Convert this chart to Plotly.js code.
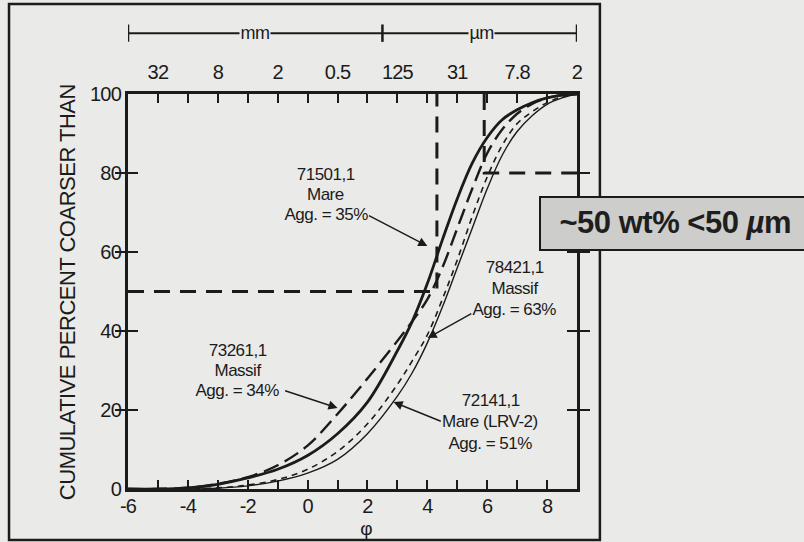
<!DOCTYPE html>
<html><head><meta charset="utf-8">
<script src="https://cdn.plot.ly/plotly-3.0.1.min.js"></script>
<style>html,body{margin:0;padding:0;background:#eaeae8;}#c{width:804px;height:542px;}
#c .xtick text,#c .ytick text,#c .x2tick text{letter-spacing:-0.8px;}
#c .annotation-text{letter-spacing:-0.5px;}
</style>
</head><body><div id="c"></div>
<script>
// ---- data ----
const phi = [-6,-5,-4,-3,-2,-1,0,1,2,3,3.5,4,4.5,5,5.5,6,6.5,7,7.5,8,8.5,9];
const s71501 = [0,0,0.3,1.2,2.8,5,8.5,14,22,35,42.5,52,63,73.5,82.5,89,93.5,96,97.8,99,99.7,100];   // Mare, thick solid
const s73261 = [0,0,0.3,1.3,3,6,11,19,28,37.5,42.5,48,56,66,76,85,91,95,97.5,99,99.7,100];       // Massif, long dash
const s78421 = [0,0,0,0.3,1,2.4,5,9.5,16.5,26.5,32.5,39,48,58,69,79,87,92.5,95.5,97.8,99.3,100];  // Massif, short dash
const s72141 = [0,0,0,0.2,0.8,2,4,7.5,14,23.5,29.5,37,46,56,66,76,84.5,90.5,94.5,97.4,99,100];    // Mare LRV-2, thin solid
const xTickVals = [-6,-4,-2,0,2,4,6,8];
const yTickVals = [0,20,40,60,80,100];
const topTickVals = [-5,-3,-1,1,3,5,7,9];
const topTickLabels = ['32','8','2','0.5','125','31','7.8','2'];
const halfPercent = 50, halfPhi = 4.32;     // ~50 wt% < 50 um
const eightyPercent = 80, eightyPhi = 5.9;
const unitSplitPhi = 2.5;
const labels = [
  {lines:['71501,1','Mare','Agg. = 35%'], x:0.6, y:[79.5,74.6,69.6], tail:[2.0,69.4], tip:[4.0,61.5]},
  {lines:['73261,1','Massif','Agg. = 34%'], x:-2.35, y:[35,30,25], tail:[-0.8,25], tip:[1.0,20.5]},
  {lines:['72141,1','Mare (LRV-2)','Agg. = 51%'], x:6.1, y:[22.5,17,11.5], tail:[4.5,17], tip:[2.87,22]},
  {lines:['78421,1','Massif','Agg. = 63%'], x:6.9, y:[56.2,50.8,45.4], tail:[5.52,44.6], tip:[4.01,38.2]}
];

const FN = '"Liberation Sans",Arial,sans-serif';
const INK = '#1b1b1b';
const BG = '#eaeae8';

const traces = [
  {x:phi, y:s72141, mode:'lines', line:{color:INK, width:1.4, shape:'spline', smoothing:1}},
  {x:phi, y:s78421, mode:'lines', line:{color:INK, width:1.6, dash:'6px,5px', shape:'spline', smoothing:1}},
  {x:phi, y:s73261, mode:'lines', line:{color:INK, width:2.4, dash:'16px,7px', shape:'spline', smoothing:1}},
  {x:phi, y:s71501, mode:'lines', line:{color:INK, width:2.8, shape:'spline', smoothing:1}},
  // guide lines
  {x:[-6, halfPhi, halfPhi], y:[halfPercent, halfPercent, 100], mode:'lines', line:{color:INK, width:3, dash:'16px,10px'}},
  {x:[eightyPhi, eightyPhi, 9], y:[100, eightyPercent, eightyPercent], mode:'lines', line:{color:INK, width:3, dash:'16px,10px'}},
  {x:[topTickVals[0]], y:[0], xaxis:'x2', mode:'markers', marker:{opacity:0}, hoverinfo:'skip'}
];
traces.forEach(t=>{t.showlegend=false; t.hoverinfo='skip';});

const allX = [], allXText = [];
for (let i=-6;i<=9;i++){ allX.push(i); allXText.push(xTickVals.includes(i)? String(i) : ''); }

const ann = [];
labels.forEach(L=>{
  L.lines.forEach((t,i)=>ann.push({x:L.x, y:L.y[i], xref:'x', yref:'y', text:t, showarrow:false,
     font:{family:FN, size:17, color:INK}, xanchor:'center', yanchor:'middle'}));
  ann.push({x:L.tip[0], y:L.tip[1], xref:'x', yref:'y', ax:L.tail[0], ay:L.tail[1], axref:'x', ayref:'y',
     text:'', showarrow:true, arrowhead:2, arrowsize:1.3, arrowwidth:1.4, arrowcolor:INK, standoff:0});
});
const barY = 1.154;
ann.push({x:-1.75, y:barY, xref:'x', yref:'paper', text:'mm', showarrow:false, bgcolor:BG, yanchor:'middle',
  font:{family:FN, size:18, color:INK}, borderpad:0});
ann.push({x:5.8, y:barY, xref:'x', yref:'paper', text:'µm', showarrow:false, bgcolor:BG, yanchor:'middle',
  font:{family:FN, size:18, color:INK}, borderpad:0});
ann.push({x:-0.135, y:0.5, xref:'paper', yref:'paper', text:'CUMULATIVE PERCENT COARSER THAN', textangle:-90,
  xanchor:'center', yanchor:'middle', showarrow:false, font:{family:FN, size:22, color:INK}});
ann.push({x:1.95, y:-0.101, xref:'x', yref:'paper', text:'φ', showarrow:false, yanchor:'middle', borderpad:0,
  font:{family:FN, size:19, color:INK}});
ann.push({x:1.218, y:0.674, xref:'paper', yref:'paper', text:'<b>~50 wt% <50 <i>µ</i>m</b>', showarrow:false,
  font:{family:FN, size:31, color:'#1e1e1e'}, xanchor:'center', yanchor:'middle'});

const shapes = [
  {type:'rect', xref:'paper', yref:'paper', x0:-0.265, x1:1.051, y0:-0.129, y1:1.228, line:{color:INK, width:2.5}, layer:'below'},
  {type:'line', xref:'x', yref:'paper', x0:-6, x1:9, y0:barY, y1:barY, line:{color:INK, width:2}},
  {type:'line', xref:'x', yref:'paper', x0:-6, x1:-6, y0:barY-0.022, y1:barY+0.022, line:{color:INK, width:2.5}},
  {type:'line', xref:'x', yref:'paper', x0:unitSplitPhi, x1:unitSplitPhi, y0:barY-0.022, y1:barY+0.022, line:{color:INK, width:2.5}},
  {type:'line', xref:'x', yref:'paper', x0:9, x1:9, y0:barY-0.022, y1:barY+0.022, line:{color:INK, width:2.5}},
  {type:'rect', xref:'paper', yref:'paper', x0:0.9176, x1:1.53, y0:0.605, y1:0.739, line:{color:INK, width:2},
   fillcolor:'#cdcdcb', layer:'above'}
];

const layout = {
  width:804, height:542,
  margin:{l:128, r:227, t:94, b:53},
  paper_bgcolor:BG, plot_bgcolor:BG,
  showlegend:false,
  xaxis:{range:[-6,9], tickmode:'array', tickvals:allX, ticktext:allXText, ticks:'inside', ticklen:9, tickwidth:2,
    tickcolor:INK, showline:true, linewidth:3, linecolor:INK, mirror:'allticks', showgrid:false, zeroline:false,
    ticklabelstandoff:-3, tickfont:{family:FN, size:20, color:INK}},
  xaxis2:{range:[-6,9], overlaying:'x', side:'top', tickmode:'array', tickvals:topTickVals, ticktext:topTickLabels,
    ticks:'', showline:false, showgrid:false, zeroline:false, ticklabelstandoff:10, tickfont:{family:FN, size:20, color:INK}},
  yaxis:{range:[0,100], tickmode:'array', tickvals:yTickVals, ticks:'inside', ticklen:10, tickwidth:2, tickcolor:INK,
    showline:true, linewidth:3, linecolor:INK, mirror:'allticks', showgrid:false, zeroline:false,
    tickfont:{family:FN, size:20, color:INK}},
  annotations:ann,
  shapes:shapes
};
Plotly.newPlot('c', traces, layout, {staticPlot:true});
</script></body></html>
